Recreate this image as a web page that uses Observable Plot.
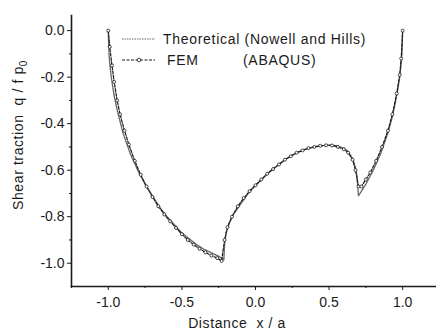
<!DOCTYPE html>
<html>
<head>
<meta charset="utf-8">
<script src="https://cdn.jsdelivr.net/npm/d3@7"></script>
<script src="https://cdn.jsdelivr.net/npm/@observablehq/plot@0.6"></script>
<style>
  html, body { margin: 0; padding: 0; background: #fff; }
  #chart { width: 436px; height: 333px; overflow: hidden; }
</style>
</head>
<body>
<div id="chart"></div>
<script>
// ---- data ----
const theoryX = [-1.0, -0.995, -0.99, -0.98, -0.96, -0.94, -0.92, -0.90, -0.85, -0.80, -0.75, -0.70, -0.65, -0.60, -0.55, -0.50, -0.45, -0.40, -0.35, -0.30, -0.25, -0.215, -0.21, -0.20, -0.18, -0.15, -0.10, -0.05, 0.00, 0.05, 0.10, 0.15, 0.20, 0.25, 0.30, 0.35, 0.40, 0.45, 0.50, 0.55, 0.60, 0.63, 0.66, 0.68, 0.69, 0.70, 0.72, 0.75, 0.80, 0.85, 0.90, 0.93, 0.95, 0.97, 0.98, 0.99, 0.995, 1.0];
const theoryY = [0, -0.10, -0.14, -0.20, -0.28, -0.34, -0.39, -0.44, -0.53, -0.60, -0.66, -0.71, -0.76, -0.80, -0.835, -0.87, -0.895, -0.92, -0.94, -0.955, -0.97, -0.985, -0.92, -0.87, -0.83, -0.79, -0.745, -0.70, -0.665, -0.635, -0.605, -0.58, -0.555, -0.535, -0.52, -0.508, -0.50, -0.495, -0.492, -0.495, -0.505, -0.52, -0.55, -0.59, -0.63, -0.71, -0.69, -0.66, -0.60, -0.53, -0.44, -0.37, -0.31, -0.24, -0.20, -0.14, -0.10, 0];

const femX = [-1.0, -0.99, -0.975, -0.96, -0.94, -0.92, -0.89, -0.86, -0.82, -0.78, -0.74, -0.70, -0.66, -0.62, -0.58, -0.54, -0.50, -0.46, -0.42, -0.38, -0.34, -0.30, -0.26, -0.23, -0.21, -0.19, -0.16, -0.12, -0.08, -0.04, 0.00, 0.04, 0.08, 0.12, 0.16, 0.20, 0.24, 0.28, 0.32, 0.36, 0.40, 0.44, 0.48, 0.52, 0.56, 0.60, 0.63, 0.66, 0.68, 0.70, 0.72, 0.75, 0.78, 0.82, 0.86, 0.90, 0.93, 0.96, 0.98, 0.99, 1.0];
const femY = [0, -0.07, -0.15, -0.22, -0.30, -0.36, -0.43, -0.49, -0.56, -0.62, -0.67, -0.715, -0.755, -0.79, -0.82, -0.848, -0.875, -0.90, -0.92, -0.938, -0.953, -0.967, -0.978, -0.99, -0.90, -0.845, -0.80, -0.755, -0.72, -0.69, -0.665, -0.64, -0.615, -0.595, -0.575, -0.555, -0.54, -0.525, -0.515, -0.505, -0.50, -0.495, -0.493, -0.494, -0.50, -0.51, -0.525, -0.555, -0.60, -0.67, -0.67, -0.64, -0.61, -0.56, -0.50, -0.43, -0.36, -0.27, -0.19, -0.12, 0];

const xTicks = [-1.0, -0.5, 0.0, 0.5, 1.0];
const xTickLabels = ["-1.0", "-0.5", "0.0", "0.5", "1.0"];
const xMinorTicks = [-1.25, -0.75, -0.25, 0.25, 0.75];
const yTicks = [0.0, -0.2, -0.4, -0.6, -0.8, -1.0];
const yTickLabels = ["0.0", "-0.2", "-0.4", "-0.6", "-0.8", "-1.0"];
const yMinorTicks = [-0.1, -0.3, -0.5, -0.7, -0.9];

const seriesNames = ["Theoretical (Nowell and Hills)", "FEM", "(ABAQUS)"];
const xTitle = "Distance  x / a";
const yTitle = "Shear traction  q / f p";
const yTitleSub = "0";

// ---- build ----
const theory = theoryX.map((x, i) => ({x, y: theoryY[i]}));
const fem = femX.map((x, i) => ({x, y: femY[i]}));
const xLab = new Map(xTicks.map((t, i) => [t, xTickLabels[i]]));
const yLab = new Map(yTicks.map((t, i) => [t, yTickLabels[i]]));

const font = "'Liberation Sans', Arial, sans-serif";
const ink = "#1a1a1a";

const chart = Plot.plot({
  width: 436,
  height: 333,
  marginLeft: 71,
  marginRight: 0,
  marginTop: 15,
  marginBottom: 47,
  x: {domain: [-1.25, 1.23]},
  y: {domain: [-1.1, 0.065]},
  style: {fontFamily: font, fontSize: "14px", color: ink, background: "white"},
  marks: [
    Plot.axisX({ticks: xTicks, tickFormat: d => xLab.get(d), tickSize: 4, tickPadding: 7, label: null, stroke: ink, fontSize: 14}),
    Plot.axisX({ticks: xMinorTicks, tickFormat: () => "", tickSize: 2, label: null, stroke: ink}),
    Plot.axisY({ticks: yTicks, tickFormat: d => yLab.get(d), tickSize: 4, tickPadding: 3, label: null, stroke: ink, fontSize: 14}),
    Plot.axisY({ticks: yMinorTicks, tickFormat: () => "", tickSize: 2, label: null, stroke: ink}),
    Plot.frame({anchor: "left", stroke: ink, strokeWidth: 1.6}),
    Plot.frame({anchor: "bottom", stroke: ink, strokeWidth: 1.6}),
    Plot.line(theory, {x: "x", y: "y", stroke: "#666", strokeWidth: 1.4, strokeDasharray: "1.5,1"}),
    Plot.line(fem, {x: "x", y: "y", stroke: ink, strokeWidth: 1.2, strokeDasharray: "3,1.5"}),
    Plot.dot(fem, {x: "x", y: "y", r: 1.5, stroke: ink, strokeWidth: 0.8, fill: "white"})
  ]
});
document.getElementById("chart").appendChild(chart);

// ---- titles and legend ----
const svg = d3.select(chart);
svg.append("text")
  .attr("x", 237).attr("y", 328)
  .attr("text-anchor", "middle")
  .attr("font-family", font).attr("font-size", 14).attr("fill", ink)
  .attr("letter-spacing", 0.6)
  .text(xTitle);

const yt = svg.append("text")
  .attr("transform", "translate(23,135) rotate(-90)")
  .attr("text-anchor", "middle")
  .attr("font-family", font).attr("font-size", 14).attr("fill", ink)
  .attr("letter-spacing", 0.6);
yt.append("tspan").text(yTitle);
yt.append("tspan").attr("dy", 4).attr("font-size", 10).text(yTitleSub);

const lg = svg.append("g").attr("font-family", font).attr("font-size", 14).attr("fill", ink)
  .attr("text-anchor", "start");
lg.append("line").attr("x1", 122).attr("x2", 155).attr("y1", 39).attr("y2", 39)
  .attr("stroke", "#666").attr("stroke-width", 1.2).attr("stroke-dasharray", "1.5,1");
lg.append("text").attr("x", 163).attr("y", 44).attr("letter-spacing", 0.7).text(seriesNames[0]);
lg.append("line").attr("x1", 122).attr("x2", 155).attr("y1", 60).attr("y2", 60)
  .attr("stroke", ink).attr("stroke-width", 1.1).attr("stroke-dasharray", "3,1.5");
lg.append("circle").attr("cx", 139).attr("cy", 60).attr("r", 1.8)
  .attr("stroke", ink).attr("stroke-width", 0.8).attr("fill", "white");
lg.append("text").attr("x", 167).attr("y", 65).attr("letter-spacing", 0.7).text(seriesNames[1]);
lg.append("text").attr("x", 243).attr("y", 65).attr("letter-spacing", 0.7).text(seriesNames[2]);
</script>
</body>
</html>
